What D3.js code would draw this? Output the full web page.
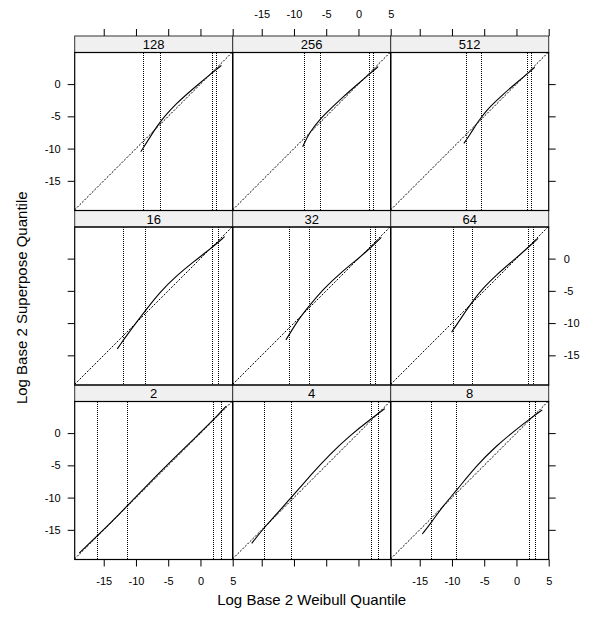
<!DOCTYPE html>
<html>
<head>
<meta charset="utf-8">
<script src="https://cdn.jsdelivr.net/npm/d3@7"></script>
<style>
  body { margin: 0; background: #fff; }
  svg { font-family: "Liberation Sans", Arial, sans-serif; }
  .tick line { stroke: #000; }
  .tick text { font-size: 11px; fill: #000; }
  .frame { fill: none; stroke: #000; stroke-width: 1.2px; }
  .strip { fill: #f0f0f0; stroke: #333; stroke-width: 1px; }
  .diag { stroke: #000; stroke-width: 1px; stroke-dasharray: 2,1.5; }
  .qline { stroke: #000; stroke-width: 1px; stroke-dasharray: 1,1; shape-rendering: crispEdges; }
  .qq { fill: none; stroke: #000; stroke-width: 1.1px; }
</style>
</head>
<body>
<script>

var width = 589,
	height = 625;

// panels in lattice order (bottom-left first)
var panelNames = ["2", "4", "8", "16", "32", "64", "128", "256", "512"];

// dotted vertical quantile lines per panel
var quantileLines = [
	[-15.9, -11.35, 2.0, 3.25],
	[-14.6, -10.4, 2.0, 3.1],
	[-13.2, -9.3, 2.0, 3.0],
	[-12.0, -8.45, 1.85, 2.8],
	[-10.7, -7.6, 1.85, 2.7],
	[-9.7, -6.8, 1.85, 2.6],
	[-8.9, -6.2, 1.8, 2.55],
	[-8.3, -5.85, 1.65, 2.35],
	[-7.8, -5.4, 1.65, 2.35]
];

// qq curve x values (Weibull quantile) per panel
var qqX = [
	[-18.8, -15.0, -11.35, -8.0, -4.0, 0.0, 2.0, 4.0],
	[-16.55, -14.6, -10.4, -7.5, -4.4, -1.35, 2.0, 4.1],
	[-14.6, -13.2, -11.35, -9.3, -6.2, -3.1, 0.0, 2.0, 4.0],
	[-12.9, -10.9, -8.45, -6.3, -3.7, -1.15, 1.85, 3.75],
	[-11.25, -9.1, -7.6, -5.45, -2.35, 0.2, 1.85, 3.55],
	[-10.05, -8.5, -6.8, -5.15, -3.1, -0.5, 1.85, 3.35],
	[-9.25, -7.05, -6.3, -5.25, -3.7, -2.15, -0.35, 1.7, 3.25],
	[-8.65, -7.55, -5.85, -4.45, -2.35, -0.3, 1.65, 3.05],
	[-8.15, -7.2, -6.2, -5.4, -4.1, -2.05, 0.0, 1.65, 2.85]
];

// qq curve y values (Superpose quantile) per panel
var qqY = [
	[-18.6, -15.0, -11.3, -7.8, -3.8, 0.1, 2.05, 4.2],
	[-17.1, -14.6, -10.0, -6.6, -3.25, -0.4, 2.25, 3.8],
	[-15.65, -13.85, -11.25, -8.9, -5.05, -1.95, 0.6, 2.15, 3.6],
	[-14.0, -11.15, -7.95, -5.2, -2.65, -0.55, 1.75, 3.4],
	[-12.6, -9.1, -7.3, -4.7, -1.85, 0.2, 1.65, 3.3],
	[-11.4, -9.1, -6.6, -4.55, -2.5, -0.3, 1.75, 3.15],
	[-10.5, -7.0, -5.95, -4.65, -3.0, -1.6, -0.05, 1.65, 2.9],
	[-9.7, -7.4, -5.3, -3.95, -1.95, -0.15, 1.5, 2.7],
	[-9.2, -7.8, -6.2, -5.05, -3.5, -1.55, 0.2, 1.55, 2.6]
];

var xTicks = [-15, -10, -5, 0, 5],
	yTicks = [-15, -10, -5, 0];

var xTitle = "Log Base 2 Weibull Quantile",
	yTitle = "Log Base 2 Superpose Quantile";

var left = 74.7, top0 = 36,
	panelW = 158, panelH = 158, stripH = 16.5;

var x = d3.scaleLinear().domain([-19.5, 5]).range([0, panelW]);
var y = d3.scaleLinear().domain([-19.6, 4.9]).range([panelH, 0]);

var fmt = function(d) { return String(d); };

var svg = d3.select("body").append("svg")
	.attr("width", width)
	.attr("height", height);

var line = d3.line()
	.x(function(d) { return x(d[0]); })
	.y(function(d) { return y(d[1]); })
	.curve(d3.curveBasis);

function rowTop(r) { return top0 + r * (stripH + panelH); }

panelNames.forEach(function(name, i) {
	var col = i % 3,
		row = 2 - Math.floor(i / 3);   // 0 = top row
	var px = left + col * panelW,
		sy = rowTop(row),
		py = sy + stripH;

	svg.append("rect").attr("class", "strip")
		.attr("x", px).attr("y", sy)
		.attr("width", panelW).attr("height", stripH);
	svg.append("text")
		.attr("x", px + panelW / 2).attr("y", sy + stripH / 2 + 4.8)
		.attr("text-anchor", "middle")
		.style("font-size", "13px")
		.text(name);

	var g = svg.append("g").attr("transform", "translate(" + px + "," + py + ")");

	g.append("line").attr("class", "diag")
		.attr("x1", x(-19.5)).attr("y1", y(-19.5))
		.attr("x2", x(4.9)).attr("y2", y(4.9));

	g.selectAll(".qline")
		.data(quantileLines[i])
	  .enter().append("line")
		.attr("class", "qline")
		.attr("x1", function(d) { return x(d); })
		.attr("x2", function(d) { return x(d); })
		.attr("y1", 0).attr("y2", panelH);

	g.append("path").attr("class", "qq")
		.attr("d", line(qqX[i].map(function(v, k) { return [v, qqY[i][k]]; })));

	g.append("rect").attr("class", "frame")
		.attr("width", panelW).attr("height", panelH);

	// axes, alternating labels like lattice
	if (col === 0) {
		var al = d3.axisLeft(y).tickValues(yTicks).tickSize(7).tickPadding(7).tickFormat(fmt);
		if (row === 1) al.tickFormat("");
		g.append("g").call(al).select(".domain").remove();
	}
	if (col === 2) {
		var ar = d3.axisRight(y).tickValues(yTicks).tickSize(7).tickPadding(8).tickFormat(fmt);
		if (row !== 1) ar.tickFormat("");
		g.append("g").attr("transform", "translate(" + panelW + ",0)")
			.call(ar).select(".domain").remove();
	}
	if (row === 2) {
		var ab = d3.axisBottom(x).tickValues(xTicks).tickSize(7).tickPadding(11).tickFormat(fmt);
		if (col === 1) ab.tickFormat("");
		g.append("g").attr("transform", "translate(0," + panelH + ")")
			.call(ab).select(".domain").remove();
	}
	if (row === 0) {
		var at = d3.axisTop(x).tickValues(xTicks).tickSize(7).tickPadding(11).tickFormat(fmt);
		if (col !== 1) at.tickFormat("");
		g.append("g").attr("transform", "translate(0," + (-stripH) + ")")
			.call(at).select(".domain").remove();
	}
});

svg.selectAll(".tick text").style("font-size", "11px");

svg.append("text")
	.attr("x", left + 1.5 * panelW).attr("y", 605)
	.attr("text-anchor", "middle")
	.style("font-size", "15px")
	.text(xTitle);

svg.append("text")
	.attr("transform", "translate(27," + (top0 + (3 * (stripH + panelH)) / 2) + ") rotate(-90)")
	.attr("text-anchor", "middle")
	.style("font-size", "15px")
	.text(yTitle);

</script>
</body>
</html>
